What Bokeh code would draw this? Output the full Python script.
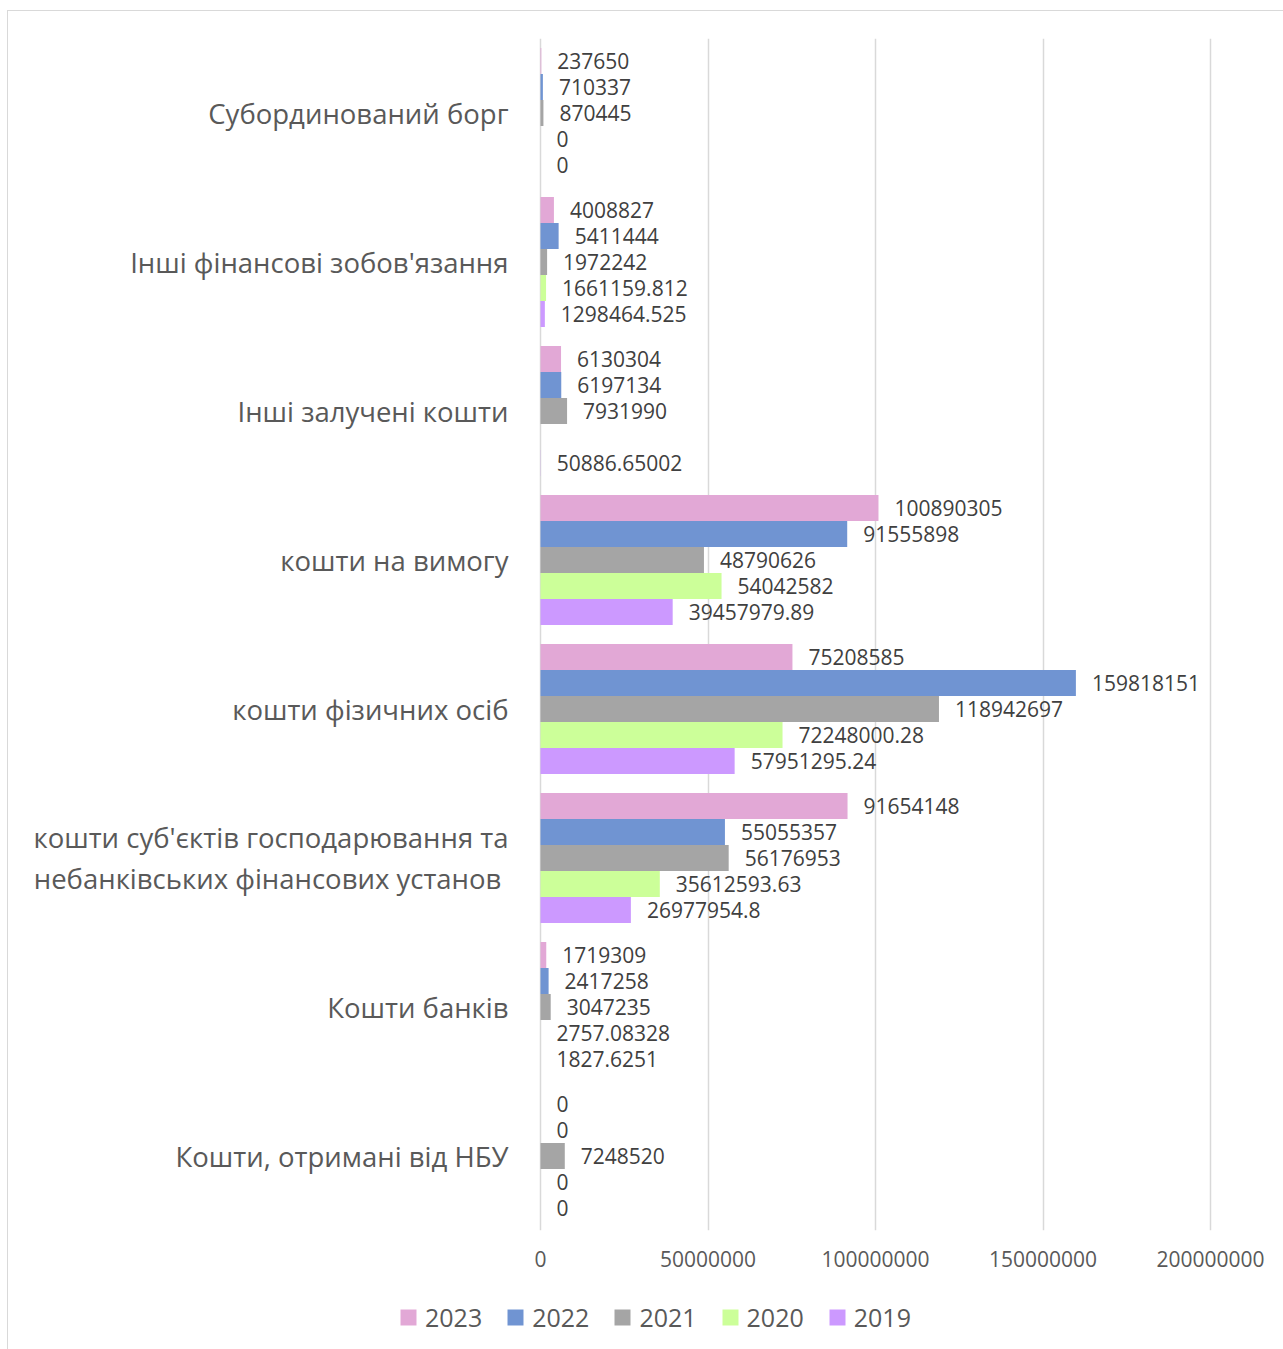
from bokeh.plotting import figure
from bokeh.layouts import column
from bokeh.models import (Range1d, FixedTicker, ColumnDataSource, Legend, LegendItem,
                          PrintfTickFormatter)
from bokeh.core.properties import value
from bokeh.embed import file_html
from bokeh.resources import INLINE

# Liability categories, listed top to bottom
categories = [
    "Субординований борг",
    "Інші фінансові зобов'язання",
    "Інші залучені кошти",
    "кошти на вимогу",
    "кошти фізичних осіб",
    "кошти суб'єктів господарювання та\nнебанківських фінансових установ ",
    "Кошти банків",
    "Кошти, отримані від НБУ",
]

years = ["2023", "2022", "2021", "2020", "2019"]

v2023 = [237650, 4008827, 6130304, 100890305, 75208585, 91654148, 1719309, 0]
v2022 = [710337, 5411444, 6197134, 91555898, 159818151, 55055357, 2417258, 0]
v2021 = [870445, 1972242, 7931990, 48790626, 118942697, 56176953, 3047235, 7248520]
v2020 = [0, 1661159.812, None, 54042582, 72248000.28, 35612593.63, 2757.08328, 0]
v2019 = [0, 1298464.525, 50886.65002, 39457979.89, 57951295.24, 26977954.8, 1827.6251, 0]

series = [v2023, v2022, v2021, v2020, v2019]
colors = ["#E2A8D6", "#7094D2", "#A5A5A5", "#CCFF99", "#CC99FF"]

x_ticks = [0, 50000000, 100000000, 150000000, 200000000]

FONT = "Open Sans"
n_cat = len(categories)
n_ser = len(years)
GAP = 0.73                      # space between groups, relative to one bar
BAR_H = 1.0 / (n_ser + GAP)

W = 1276
# horizontal scale: 670 px span for 0..200M, value axis starts 532 px into the frame
PX = 200000000 / 670.0
X_START = -532 * PX
X_END = (W - 532) * PX

p = figure(
    width=W, height=1273,
    x_range=Range1d(X_START, X_END),
    y_range=Range1d(n_cat, 0),
    y_axis_location=None,
    output_backend="svg", toolbar_location=None,
    min_border_top=27, min_border_left=0, min_border_right=0, min_border_bottom=54,
)
p.outline_line_color = None
p.background_fill_color = "white"
p.border_fill_color = "white"

# value axis
ax = p.xaxis[0]
ax.ticker = FixedTicker(ticks=x_ticks)
ax.formatter = PrintfTickFormatter(format="%d")
ax.axis_line_color = None
ax.major_tick_line_color = None
ax.minor_tick_line_color = None
ax.major_tick_out = 0
ax.major_tick_in = 0
ax.major_label_standoff = 20
ax.major_label_text_font = FONT
ax.major_label_text_font_size = "21px"
ax.major_label_text_color = "#595959"

p.xgrid.ticker = FixedTicker(ticks=x_ticks)
p.xgrid.grid_line_color = "#D9D9D9"
p.xgrid.grid_line_width = 1.5
p.ygrid.grid_line_color = None

for j, (yr, vals, col) in enumerate(zip(years, series, colors)):
    ys = [i + 0.5 + (j - (n_ser - 1) / 2) * BAR_H for i in range(n_cat)]
    right = [v if v is not None else 0 for v in vals]
    labels = ["" if v is None else str(v) for v in vals]
    src = ColumnDataSource(dict(y=ys, right=right, label=labels))
    p.hbar(y="y", left=0, right="right", height=BAR_H, source=src,
           fill_color=col, line_color=None)
    p.text(x="right", y="y", text="label", source=src, x_offset=16,
           text_align="left", text_baseline="middle",
           text_font=value(FONT), text_font_size="21px", text_color="#404040")

# category names to the left of the value axis
cat_src = ColumnDataSource(dict(x=[0] * n_cat, y=[i + 0.5 for i in range(n_cat)], t=categories))
p.text(x="x", y="y", text="t", source=cat_src, x_offset=-32,
       text_align="right", text_baseline="middle", text_line_height=1.1,
       text_font=value(FONT), text_font_size="27.5px", text_color="#595959")

# legend strip under the chart: zero-length proxy bars carry the series colours
lg = figure(width=W, height=66, x_range=Range1d(0, 1), y_range=Range1d(0, 1),
            x_axis_location=None, y_axis_location=None,
            output_backend="svg", toolbar_location=None,
            min_border=0, outline_line_color=None)
lg.grid.visible = False
items = []
for yr, col in zip(years, colors):
    r = lg.hbar(y=[0.5], left=[0], right=[0], height=0.5, fill_color=col, line_color=None)
    items.append(LegendItem(label=yr, renderers=[r]))
legend = Legend(items=items, orientation="horizontal", location="left",
                border_line_color=None, background_fill_alpha=0,
                label_text_font=FONT, label_text_font_size="25px", label_text_color="#595959",
                glyph_width=20, glyph_height=20, label_standoff=7, spacing=23,
                padding=0, margin=390)
lg.add_layout(legend, "center")

page = column(p, lg, spacing=0, margin=(10, 0, 0, 7),
              styles={"border-left": "1px solid #D9D9D9", "border-top": "1px solid #D9D9D9"})

open("out.html", "w").write(file_html(page, INLINE))
